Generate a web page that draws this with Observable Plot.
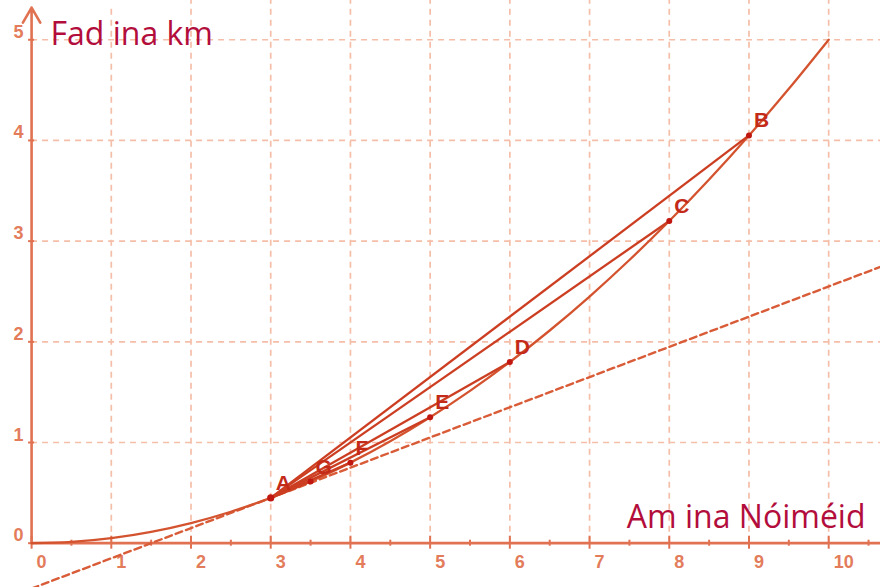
<!DOCTYPE html>
<html>
<head>
<meta charset="utf-8">
<script src="https://cdn.jsdelivr.net/npm/d3@7"></script>
<script src="https://cdn.jsdelivr.net/npm/@observablehq/plot@0.6"></script>
<style>
  html, body { margin: 0; padding: 0; background: #fff; }
  #chart svg { display: block; }
</style>
</head>
<body>
<div id="chart"></div>
<script>
// ---- Data ----
const curveX = [0, 0.5, 1, 1.5, 2, 2.5, 3, 3.5, 4, 4.5, 5, 5.5, 6, 6.5, 7, 7.5, 8, 8.5, 9, 9.5, 10];
const curveY = [0, 0.0125, 0.05, 0.1125, 0.2, 0.3125, 0.45, 0.6125, 0.8, 1.0125, 1.25, 1.5125, 1.8, 2.1125, 2.45, 2.8125, 3.2, 3.6125, 4.05, 4.5125, 5];

const pointNames = ["A", "B", "C", "D", "E", "F", "G"];
const pointX = [3, 9, 8, 6, 5, 4, 3.5];
const pointY = [0.45, 4.05, 3.2, 1.8, 1.25, 0.8, 0.6125];

const tangentX = [0, 11];
const tangentY = [-0.45, 2.85];

const xTicks = [0, 1, 2, 3, 4, 5, 6, 7, 8, 9, 10];
const xMinorTicks = [0.5, 1.5, 2.5, 3.5, 4.5, 5.5, 6.5, 7.5, 8.5, 9.5, 10.5];
const yTicks = [0, 1, 2, 3, 4, 5];
const gridX = [1, 2, 3, 4, 5, 6, 7, 8, 9, 10];
const gridY = [1, 2, 3, 4, 5];

const yAxisTitle = "Fad ina km";
const xAxisTitle = "Am ina Nóiméid";

// ---- Derived tables ----
const curve = curveX.map((x, i) => ({x, y: curveY[i]}));
const points = pointNames.map((name, i) => ({name, x: pointX[i], y: pointY[i]}));
const anchor = points[0];
const secants = points.slice(1).map(p => ({x1: anchor.x, y1: anchor.y, x2: p.x, y2: p.y}));
const tangent = tangentX.map((x, i) => ({x, y: tangentY[i]}));

const xDomain = [-0.39, 10.65];
const yDomain = [-0.44, 5.39];

const axisColor = "#e07252";
const gridColor = "#f5bea8";
const lineColor = "#cc3e22";
const curveColor = "#d4532f";
const pointColor = "#c01810";
const titleColor = "#b30d3c";

const plot = Plot.plot({
  width: 880,
  height: 587,
  margin: 0,
  x: {domain: xDomain, axis: null},
  y: {domain: yDomain, axis: null},
  style: {background: "#fff", overflow: "visible"},
  marks: [
    // grid
    Plot.ruleX(gridX, {y1: 0, y2: yDomain[1], stroke: gridColor, strokeWidth: 1.7, strokeDasharray: "6,5"}),
    Plot.ruleY(gridY, {x1: 0, x2: xDomain[1], stroke: gridColor, strokeWidth: 1.7, strokeDasharray: "6,5"}),
    // axes
    Plot.ruleY([0], {x1: 0, x2: xDomain[1], stroke: axisColor, strokeWidth: 2.8}),
    Plot.arrow([{x1: 0, y1: 0, x2: 0, y2: 5.32}], {x1: "x1", y1: "y1", x2: "x2", y2: "y2", stroke: axisColor, strokeWidth: 2.6, headLength: 10, headAngle: 60}),
    Plot.ruleX(xTicks, {y1: 0, y2: 0, insetTop: -7, insetBottom: -6, stroke: axisColor, strokeWidth: 2}),
    Plot.ruleX(xMinorTicks, {y1: 0, y2: 0, insetTop: -3, insetBottom: -3, stroke: axisColor, strokeWidth: 2}),
    Plot.ruleY(yTicks, {x1: 0, x2: 0, insetLeft: -3, insetRight: -3, stroke: axisColor, strokeWidth: 2}),
    Plot.text(xTicks, {x: d => d, y: 0, text: d => String(d), textAnchor: "start", dx: 5, dy: 19, fontSize: 18, fontWeight: "bold", fontFamily: "Liberation Sans, Arial, sans-serif", fill: "#e37c5b"}),
    Plot.text(yTicks, {x: 0, y: d => d, text: d => String(d), textAnchor: "end", lineAnchor: "bottom", dx: -8, dy: -2, fontSize: 18, fontWeight: "bold", fontFamily: "Liberation Sans, Arial, sans-serif", fill: "#e37c5b"}),
    // tangent (dashed)
    Plot.line(tangent, {x: "x", y: "y", stroke: "#d95c38", strokeWidth: 2.4, strokeDasharray: "7,4", clip: true}),
    // curve
    Plot.line(curve, {x: "x", y: "y", curve: "catmull-rom", stroke: curveColor, strokeWidth: 2.3}),
    // secants
    Plot.link(secants, {x1: "x1", y1: "y1", x2: "x2", y2: "y2", stroke: lineColor, strokeWidth: 2.3}),
    // points
    Plot.dot(points, {x: "x", y: "y", r: d => d.name === "A" ? 6 : 4.2, fill: pointColor, stroke: "none"}),
    Plot.text(points, {x: "x", y: "y", text: "name", textAnchor: "start", lineAnchor: "bottom", dx: 5, dy: -8, fontSize: 21, fontWeight: "bold", fontFamily: "Liberation Sans, Arial, sans-serif", fill: "#c42a18"}),
    // axis titles
    Plot.text([yAxisTitle], {frameAnchor: "top-left", text: d => d, textAnchor: "start", lineAnchor: "bottom", dx: 50, dy: 44, fontSize: 32, fontFamily: "Open Sans, Noto Sans, sans-serif", fill: titleColor}),
    Plot.text([xAxisTitle], {frameAnchor: "bottom-right", text: d => d, textAnchor: "end", lineAnchor: "bottom", dx: -15, dy: -60, fontSize: 32, fontFamily: "Open Sans, Noto Sans, sans-serif", fill: titleColor})
  ]
});

document.getElementById("chart").appendChild(plot);

// White boxes behind the axis titles (sized from the rendered text)
const svgNS = "http://www.w3.org/2000/svg";
plot.querySelectorAll("text").forEach(t => {
  const s = t.textContent;
  if (s === yAxisTitle || s === xAxisTitle) {
    const b = t.getBBox();
    const g = t.closest("g[aria-label='text']") || t.parentNode;
    const r = document.createElementNS(svgNS, "rect");
    r.setAttribute("x", b.x - 14);
    r.setAttribute("y", b.y + 6);
    r.setAttribute("width", b.width + 28);
    r.setAttribute("height", b.height - 9);
    r.setAttribute("fill", "#fff");
    g.parentNode.insertBefore(r, g);
  }
});
</script>
</body>
</html>
